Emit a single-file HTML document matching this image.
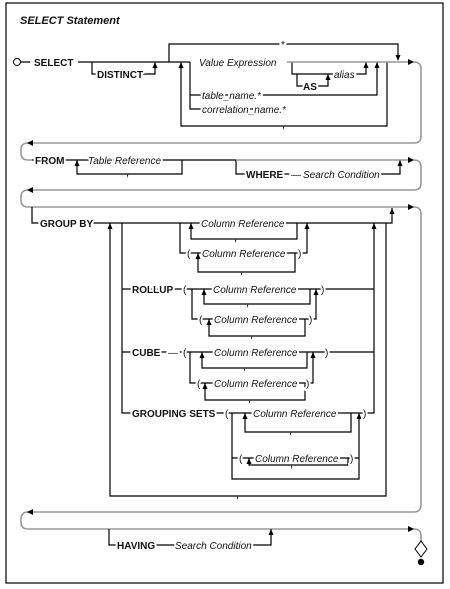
<!DOCTYPE html>
<html><head><meta charset="utf-8"><style>
html,body{margin:0;padding:0;background:#fff;}
svg{display:block;}
text{font-family:"Liberation Sans",sans-serif;font-size:10px;fill:#111;paint-order:stroke;stroke:#fff;stroke-width:4px;stroke-linejoin:round;}
.b{font-weight:bold;}
.i{font-style:italic;}
.c{font-size:11px;stroke-width:0;}
.k{stroke:#000;stroke-width:1.2;fill:none;}
.g{stroke:#999;stroke-width:1.6;fill:none;}
.a{fill:#000;stroke:none;}
</style></head><body>
<svg width="450" height="589" viewBox="0 0 450 589" xmlns="http://www.w3.org/2000/svg">
<rect x="6" y="3" width="437" height="580" fill="none" stroke="#000" stroke-width="1.2"/>
<text x="20" y="24" class="b i" style="font-size:11px">SELECT Statement</text>

<circle cx="17" cy="62" r="3.5" fill="#fff" stroke="#000" stroke-width="1"/>
<path class="k" d="M21 62H30 M78 62H190 M92 62V74H155V62 M169 62V44H398V56 M190 62V109H285 M190 95H377V62 M181 62V126H387V62 M292 62V74H366V62 M297 74V86H328V74"/>
<path class="g" d="M287 62H414 Q421 62 421 69V136 Q421 143 414 143H28 Q21 143 21 150V153 Q21 160 28 160H32"/>
<polygon class="a" points="152.5,68 155,62 157.5,68"/>
<polygon class="a" points="395.5,55 398,61 400.5,55"/>
<polygon class="a" points="178.5,68 181,62 183.5,68"/>
<polygon class="a" points="374.5,68 377,62 379.5,68"/>
<polygon class="a" points="363.5,68 366,62 368.5,68"/>
<polygon class="a" points="325.5,80 328,74 330.5,80"/>
<polygon class="a" points="408,59 414,62 408,65"/>
<polygon class="a" points="33,140 27,143 33,146"/>
<text x="34" y="66" class="b">SELECT</text>
<text x="97" y="78" class="b">DISTINCT</text>
<text x="281" y="48">*</text>
<text x="199" y="66" class="i">Value Expression</text>
<text x="303" y="90" class="b">AS</text>
<text x="334" y="78" class="i">alias</text>
<text x="202" y="99" class="i">table_name.*</text>
<text x="202" y="113" class="i">correlation_name.*</text>
<text x="282" y="128" class="c">,</text>

<path class="k" d="M32 160H70 M70 160H182 M77 160V174H182V160 M182 160H236 M236 160V174H400V160"/>
<path class="g" d="M236 160H414 Q421 160 421 167V183 Q421 190 414 190H28 Q21 190 21 197V200 Q21 207 28 207H414 Q421 207 421 214V505 Q421 512 414 512H28 Q21 512 21 519V522 Q21 529 28 529H414 Q421 529 421 536V541"/>
<polygon class="a" points="74.5,166 77,160 79.5,166"/>
<polygon class="a" points="397.5,166 400,160 402.5,166"/>
<polygon class="a" points="408,157 414,160 408,163"/>
<polygon class="a" points="33,187 27,190 33,193"/>
<polygon class="a" points="408,204 414,207 408,210"/>
<polygon class="a" points="33,509 27,512 33,515"/>
<polygon class="a" points="408,526 414,529 408,532"/>
<text x="35" y="164" class="b">FROM</text>
<text x="88" y="164" class="i">Table Reference</text>
<text x="126" y="176" class="c">,</text>
<text x="246" y="178" class="b">WHERE</text>
<text x="291" y="178">—</text>
<text x="303" y="178" class="i">Search Condition</text>

<path class="k" d="M32 207V223H392V208 M110 223V496H386V223 M122 223V413H374V223
M180 223V253H307V223 M191 223V239H297V223 M198 253V272H295V253
M122 289H374 M192 289V319H316V289 M204 289V304H310V289 M209 319V336H305V319
M122 352H374 M190 352V383H313V352 M202 352V368H307V352 M205 383V400H305V383
M232 413V479H359V413 M245 413V432H351V413 M232 458H359 M249 458V465H348V458"/>
<polygon class="a" points="389.5,214 392,208 394.5,214"/>
<polygon class="a" points="107.5,229 110,223 112.5,229"/>
<polygon class="a" points="371.5,229 374,223 376.5,229"/>
<polygon class="a" points="188.5,229 191,223 193.5,229"/>
<polygon class="a" points="304.5,229 307,223 309.5,229"/>
<polygon class="a" points="195.5,259 198,253 200.5,259"/>
<polygon class="a" points="201.5,295 204,289 206.5,295"/>
<polygon class="a" points="313.5,295 316,289 318.5,295"/>
<polygon class="a" points="206.5,325 209,319 211.5,325"/>
<polygon class="a" points="199.5,358 202,352 204.5,358"/>
<polygon class="a" points="310.5,358 313,352 315.5,358"/>
<polygon class="a" points="202.5,389 205,383 207.5,389"/>
<polygon class="a" points="242.5,419 245,413 247.5,419"/>
<polygon class="a" points="356.5,419 359,413 361.5,419"/>
<polygon class="a" points="246.5,464 249,458 251.5,464"/>
<text x="40" y="227" class="b">GROUP BY</text>
<text x="201" y="227" class="i">Column Reference</text>
<text x="234" y="241" class="c">,</text>
<text x="187" y="257">(</text>
<text x="202" y="257" class="i">Column Reference</text>
<text x="298" y="257">)</text>
<text x="240" y="274" class="c">,</text>
<text x="132" y="293" class="b">ROLLUP</text>
<text x="183" y="293">(</text>
<text x="213" y="293" class="i">Column Reference</text>
<text x="321" y="293">)</text>
<text x="246" y="306" class="c">,</text>
<text x="199" y="323">(</text>
<text x="214" y="323" class="i">Column Reference</text>
<text x="309" y="323">)</text>
<text x="250" y="338" class="c">,</text>
<text x="132" y="356" class="b">CUBE</text>
<text x="168" y="356">—</text>
<text x="183" y="356">(</text>
<text x="214" y="356" class="i">Column Reference</text>
<text x="325" y="356">)</text>
<text x="243" y="370" class="c">,</text>
<text x="197" y="387">(</text>
<text x="214" y="387" class="i">Column Reference</text>
<text x="306" y="387">)</text>
<text x="248" y="402" class="c">,</text>
<text x="132" y="417" class="b">GROUPING SETS</text>
<text x="225" y="417">(</text>
<text x="253" y="417" class="i">Column Reference</text>
<text x="363" y="417">)</text>
<text x="289" y="434" class="c">,</text>
<text x="239" y="462">(</text>
<text x="255" y="462" class="i">Column Reference</text>
<text x="350" y="462">)</text>
<text x="290" y="467" class="c">,</text>
<text x="236" y="498" class="c">,</text>

<path class="k" d="M109 529V545H271V529"/>
<polygon class="a" points="268.5,535 271,529 273.5,535"/>
<text x="117" y="549" class="b">HAVING</text>
<text x="175" y="549" class="i">Search Condition</text>
<polygon points="421,541 427,549 421,557 415,549" fill="#fff" stroke="#000" stroke-width="1"/>
<circle cx="421" cy="562" r="3.2" fill="#000"/>
</svg>
</body></html>
